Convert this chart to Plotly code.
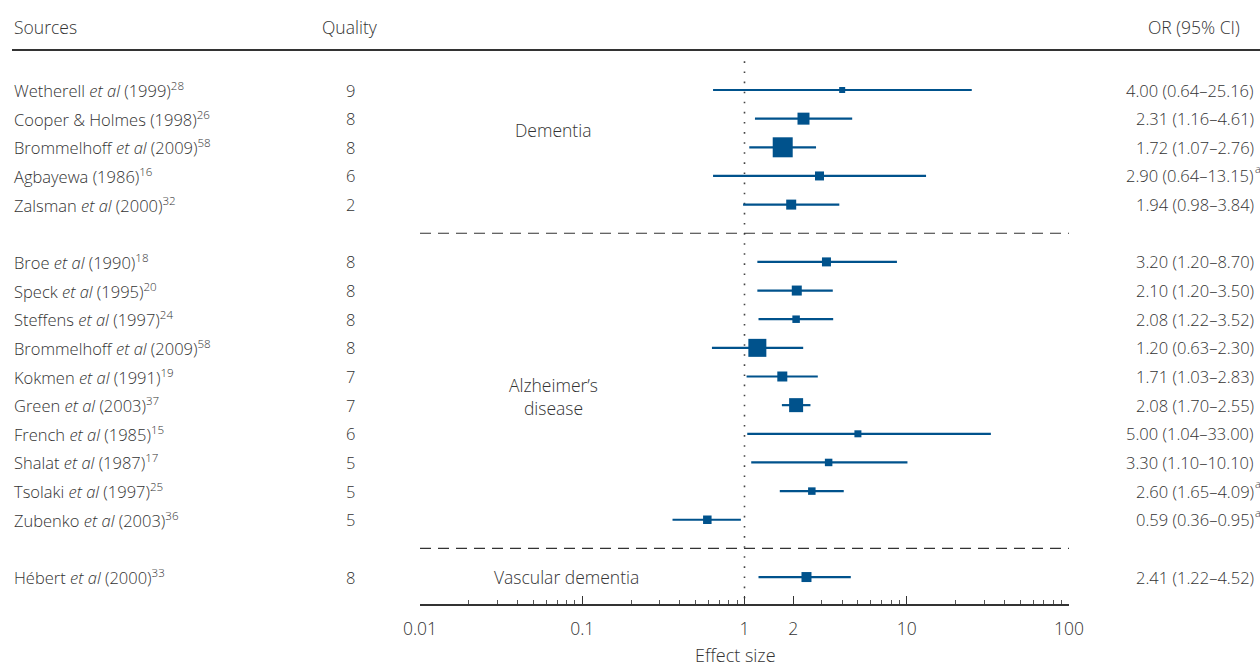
import plotly.graph_objects as go

# ---------------- data ----------------
groups = ["Dementia", "Alzheimer’s<br>disease", "Vascular dementia"]
group_sizes = [5, 10, 1]

sources = [
    "Wetherell <i>et al</i> (1999)<sup>28</sup>",
    "Cooper & Holmes (1998)<sup>26</sup>",
    "Brommelhoff <i>et al</i> (2009)<sup>58</sup>",
    "Agbayewa (1986)<sup>16</sup>",
    "Zalsman <i>et al</i> (2000)<sup>32</sup>",
    "Broe <i>et al</i> (1990)<sup>18</sup>",
    "Speck <i>et al</i> (1995)<sup>20</sup>",
    "Steffens <i>et al</i> (1997)<sup>24</sup>",
    "Brommelhoff <i>et al</i> (2009)<sup>58</sup>",
    "Kokmen <i>et al</i> (1991)<sup>19</sup>",
    "Green <i>et al</i> (2003)<sup>37</sup>",
    "French <i>et al</i> (1985)<sup>15</sup>",
    "Shalat <i>et al</i> (1987)<sup>17</sup>",
    "Tsolaki <i>et al</i> (1997)<sup>25</sup>",
    "Zubenko <i>et al</i> (2003)<sup>36</sup>",
    "Hébert <i>et al</i> (2000)<sup>33</sup>",
]
quality = [9, 8, 8, 6, 2, 8, 8, 8, 8, 7, 7, 6, 5, 5, 5, 8]
odds_ratio = [4.00, 2.31, 1.72, 2.90, 1.94, 3.20, 2.10, 2.08, 1.20, 1.71, 2.08, 5.00, 3.30, 2.60, 0.59, 2.41]
ci_low = [0.64, 1.16, 1.07, 0.64, 0.98, 1.20, 1.20, 1.22, 0.63, 1.03, 1.70, 1.04, 1.10, 1.65, 0.36, 1.22]
ci_high = [25.16, 4.61, 2.76, 13.15, 3.84, 8.70, 3.50, 3.52, 2.30, 2.83, 2.55, 33.00, 10.10, 4.09, 0.95, 4.52]
footnote_a = [False, False, False, True, False, False, False, False, False, False, False, False, False, True, True, False]
# relative study weights (box size)
weights = [6, 12, 20, 9, 10, 9, 10, 7.5, 18, 10, 14, 7, 7.5, 7.5, 8.5, 10]

tick_vals = [0.01, 0.1, 1, 2, 10, 100]
tick_text = ["0.01", "0.1", "1", "2", "10", "100"]

# ---------------- layout helpers ----------------
BLUE = "#00528C"
TXT = "#333333"
FONT = "Open Sans"
FW = 300
FS = 16.5
FS_HEAD = 17.5

rows = []
sep_rows = []
r = 0
for gi, n in enumerate(group_sizes):
    for _ in range(n):
        rows.append(r)
        r += 1
    if gi < len(group_sizes) - 1:
        sep_rows.append(r)
        r += 1

fig = go.Figure()

fig.add_trace(go.Scatter(x=[1, 1], y=[-1.0, rows[-1] + 0.94], mode="lines",
                         line=dict(color="#444", width=1.6, dash="1.6px,8.5px"),
                         hoverinfo="skip", showlegend=False))
for sr in sep_rows:
    fig.add_trace(go.Scatter(x=[tick_vals[0], tick_vals[-1]], y=[sr, sr], mode="lines",
                             line=dict(color="#333", width=1.2, dash="11px,7px"),
                             hoverinfo="skip", showlegend=False))

cx, cy = [], []
for lo, hi, yy in zip(ci_low, ci_high, rows):
    cx += [lo, hi, None]
    cy += [yy, yy, None]
fig.add_trace(go.Scatter(x=cx, y=cy, mode="lines", line=dict(color=BLUE, width=2.2),
                         hoverinfo="skip", showlegend=False))
fig.add_trace(go.Scatter(x=odds_ratio, y=rows, mode="markers",
                         marker=dict(symbol="square", size=weights, color=BLUE, opacity=1,
                                     line=dict(width=0)),
                         showlegend=False))


def tfont(size=FS):
    return dict(size=size, color=TXT, family=FONT, weight=FW)


ann = []
for s, q, o, lo, hi, fa, yy in zip(sources, quality, odds_ratio, ci_low, ci_high, footnote_a, rows):
    ann.append(dict(x=12 / 1260, y=yy, xref="paper", yref="y", text=s, showarrow=False,
                    xanchor="left", yanchor="middle", font=tfont()))
    ann.append(dict(x=350 / 1260, y=yy, xref="paper", yref="y", text=str(q), showarrow=False,
                    xanchor="center", yanchor="middle", font=tfont()))
    ann.append(dict(x=1256 / 1260, y=yy, xref="paper", yref="y",
                    text=f"{o:.2f} ({lo:.2f}–{hi:.2f})", showarrow=False,
                    xanchor="right", yanchor="middle", font=tfont()))
    if fa:
        ann.append(dict(x=1253 / 1260, y=yy - 0.25, xref="paper", yref="y", text="a", showarrow=False,
                        xanchor="left", yanchor="middle", font=tfont(11)))

ann.append(dict(x=12 / 1260, y=-2.2, xref="paper", yref="y", text="Sources", showarrow=False,
                xanchor="left", yanchor="middle", font=tfont(FS_HEAD)))
ann.append(dict(x=350 / 1260, y=-2.2, xref="paper", yref="y", text="Quality", showarrow=False,
                xanchor="center", yanchor="middle", font=tfont(FS_HEAD)))
ann.append(dict(x=1242 / 1260, y=-2.2, xref="paper", yref="y", text="OR (95% CI)", showarrow=False,
                xanchor="right", yanchor="middle", font=tfont(FS_HEAD)))

start = 0
group_label_pos = []
for gi, n in enumerate(group_sizes):
    first = rows[start]
    last = rows[start + n - 1]
    start += n
    group_label_pos.append((first + last) / 2)
label_x = [553, 553, 566]
label_y_shift = [-0.6, 0.2, 0]
for g, yy, lx, sh in zip(groups, group_label_pos, label_x, label_y_shift):
    ann.append(dict(x=lx / 1260, y=yy + sh, xref="paper", yref="y", text=g, showarrow=False,
                    xanchor="center", yanchor="middle", align="center", font=tfont(FS_HEAD)))

ann.append(dict(x=735 / 1260, y=(668 - 655) / 668, xref="paper", yref="paper", text="Effect size",
                showarrow=False, xanchor="center", yanchor="middle", font=tfont(18)))

minor_vals = [m * 10 ** e for e in range(-2, 2) for m in range(2, 10)]

top_px, bot_px, row0_px, row_sp = 0, 604, 90, 28.65
fig.update_layout(
    width=1260, height=668, margin=dict(l=0, r=0, t=0, b=0, pad=0), autosize=False,
    paper_bgcolor="white", plot_bgcolor="white", showlegend=False,
    annotations=ann,
    shapes=[dict(type="line", xref="paper", yref="y", x0=12 / 1260, x1=1, y0=-1.4, y1=-1.4,
                 line=dict(color="#333", width=2))],
    xaxis=dict(type="log", range=[-2, 2], domain=[420 / 1260, 1069 / 1260], automargin=False,
               showgrid=False, zeroline=False, showline=True, linecolor="#333", linewidth=2,
               ticks="inside", ticklen=8, tickwidth=1, tickcolor="#333",
               tickvals=tick_vals, ticktext=tick_text, ticklabelstandoff=8,
               tickfont=dict(size=17.5, color=TXT, family=FONT, weight=FW),
               minor=dict(ticks="inside", ticklen=4, tickwidth=1, tickcolor="#555", tickvals=minor_vals,
                          showgrid=False)),
    yaxis=dict(range=[(bot_px - row0_px) / row_sp, (top_px - row0_px) / row_sp], automargin=False,
               domain=[(668 - bot_px) / 668, 1], visible=False, showgrid=False, zeroline=False),
)

fig.write_html("out.html")
